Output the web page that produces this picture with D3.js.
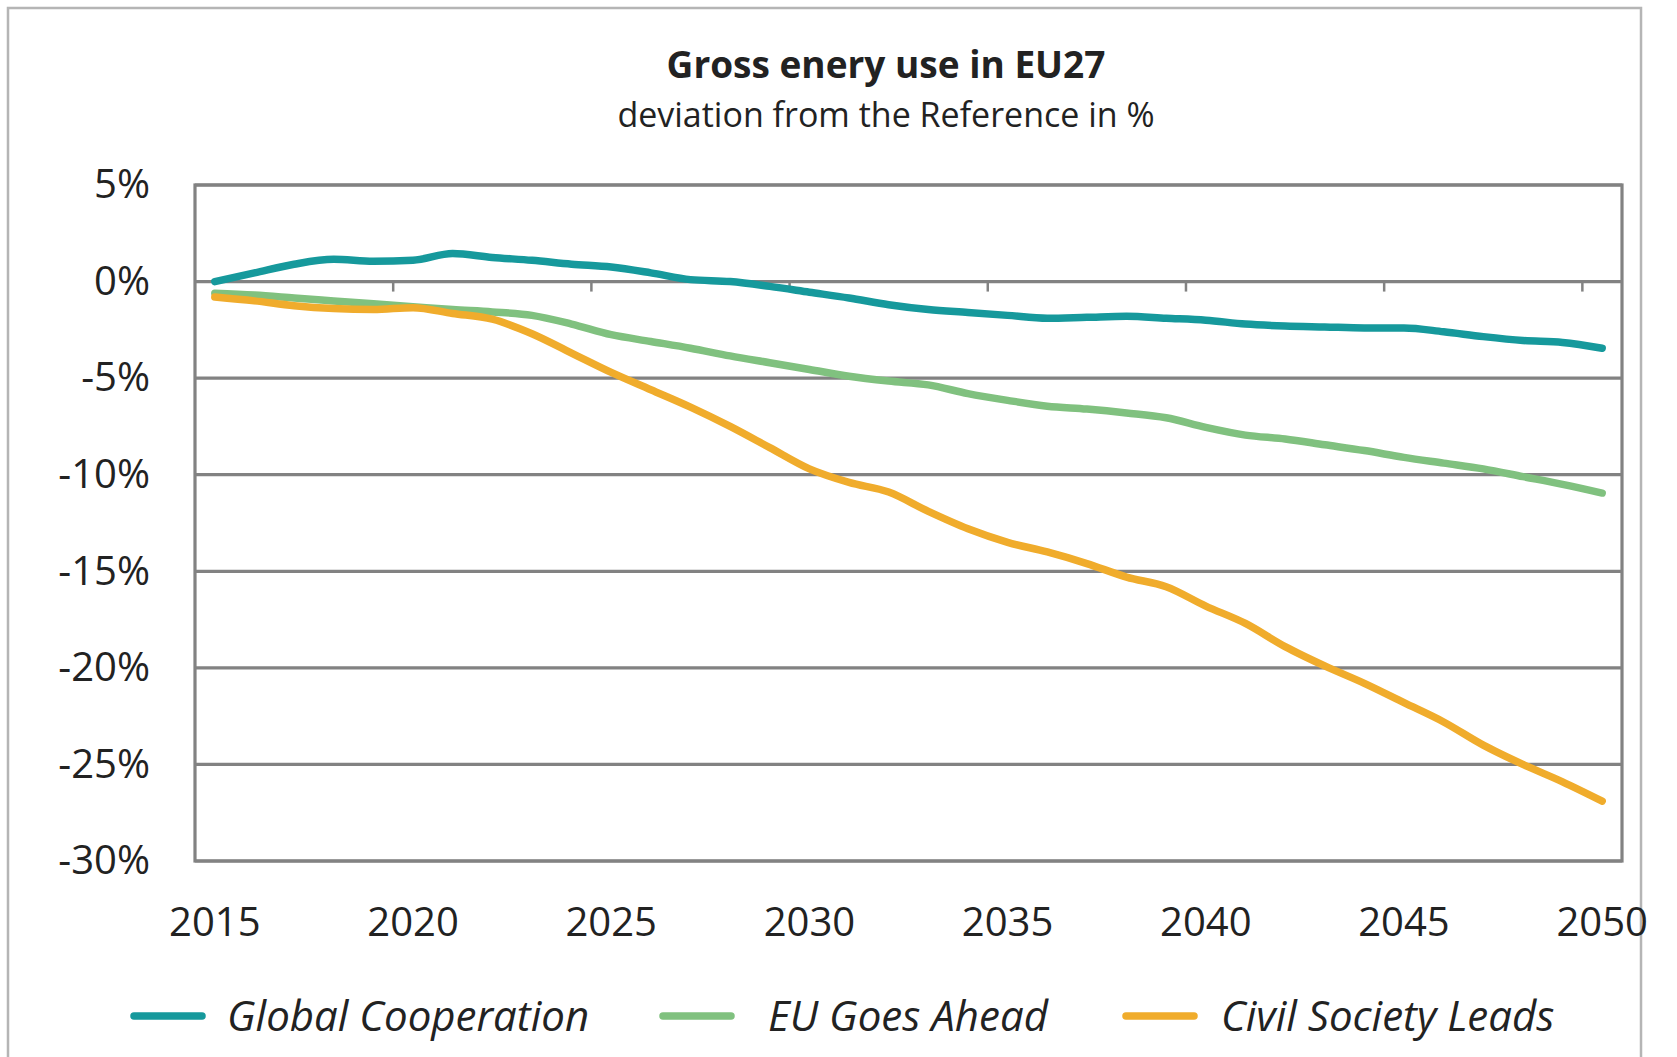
<!DOCTYPE html>
<html>
<head>
<meta charset="utf-8">
<script src="https://cdn.jsdelivr.net/npm/d3@7"></script>
<style>
  html, body { margin: 0; padding: 0; background: #fff; }
  svg { display: block; }
  text { font-family: "Open Sans", "Noto Sans", sans-serif; fill: #222; }
</style>
</head>
<body>
<svg width="1677" height="1057"></svg>
<script>
// data
const years = d3.range(2015, 2051);
const yTicks = [5, 0, -5, -10, -15, -20, -25, -30];
const xLabelYears = [2015, 2020, 2025, 2030, 2035, 2040, 2045, 2050];

const globalCooperation = [0, 0.45, 0.9, 1.15, 1.05, 1.1, 1.45, 1.25, 1.1, 0.9,
  0.75, 0.45, 0.1, 0.0, -0.25, -0.55, -0.85, -1.2, -1.45, -1.6,
  -1.75, -1.9, -1.85, -1.8, -1.9, -2.0, -2.2, -2.3, -2.35, -2.4,
  -2.4, -2.6, -2.85, -3.05, -3.15, -3.45];
const euGoesAhead = [-0.6, -0.7, -0.85, -1.0, -1.15, -1.3, -1.45, -1.57, -1.75, -2.2,
  -2.75, -3.1, -3.45, -3.85, -4.2, -4.55, -4.9, -5.15, -5.35, -5.8,
  -6.15, -6.45, -6.6, -6.8, -7.05, -7.55, -7.95, -8.15, -8.45, -8.75,
  -9.1, -9.4, -9.7, -10.1, -10.5, -10.95];
const civilSocietyLeads = [-0.8, -1.0, -1.25, -1.4, -1.45, -1.35, -1.65, -1.95, -2.7, -3.7,
  -4.7, -5.6, -6.5, -7.5, -8.6, -9.7, -10.4, -10.9, -11.9, -12.8,
  -13.5, -14.0, -14.6, -15.3, -15.8, -16.8, -17.7, -18.9, -19.9, -20.8,
  -21.8, -22.8, -24.0, -25.0, -25.9, -26.9];

const seriesNames = ["Global Cooperation", "EU Goes Ahead", "Civil Society Leads"];
const seriesColors = ["#16999c", "#80c17f", "#f0ac2c"];
const seriesValues = [globalCooperation, euGoesAhead, civilSocietyLeads];

const plot = { left: 195, right: 1622, top: 185, bottom: 861 };
const gridColor = "#828282";

const svg = d3.select("svg");

// outer chart frame
svg.append("rect")
    .attr("x", 8).attr("y", 8)
    .attr("width", 1633).attr("height", 1070)
    .attr("fill", "none")
    .attr("stroke", "#b5b5b5")
    .attr("stroke-width", 2.5);

// titles
svg.append("text")
    .attr("x", 886).attr("y", 78)
    .attr("text-anchor", "middle")
    .style("font-size", "37px")
    .style("font-weight", "bold")
    .text("Gross enery use in EU27");

svg.append("text")
    .attr("x", 886).attr("y", 127)
    .attr("text-anchor", "middle")
    .style("font-size", "34px")
    .text("deviation from the Reference in %");

const x = d3.scaleBand()
    .domain(years)
    .range([plot.left, plot.right])
    .paddingInner(0).paddingOuter(0);
const xc = yr => x(yr) + x.bandwidth() / 2;

const y = d3.scaleLinear()
    .domain([-30, 5])
    .range([plot.bottom, plot.top]);

// horizontal gridlines
svg.append("g")
    .selectAll("line")
    .data(yTicks)
    .join("line")
    .attr("x1", plot.left).attr("x2", plot.right)
    .attr("y1", d => y(d)).attr("y2", d => y(d))
    .attr("stroke", gridColor)
    .attr("stroke-width", 3.2);

// plot frame sides
svg.append("rect")
    .attr("x", plot.left).attr("y", plot.top)
    .attr("width", plot.right - plot.left)
    .attr("height", plot.bottom - plot.top)
    .attr("fill", "none")
    .attr("stroke", gridColor)
    .attr("stroke-width", 3.2);

// y axis labels
const yAxis = d3.axisLeft(y)
    .tickValues(yTicks)
    .tickSize(0)
    .tickPadding(0)
    .tickFormat(d => d + "%");
svg.append("g")
    .attr("transform", `translate(${150},0)`)
    .call(yAxis)
    .call(g => g.select(".domain").remove())
    .call(g => g.selectAll("text")
        .style("font-size", "40px")
        .style("font-family", "'Open Sans', sans-serif")
        .attr("fill", "#222"));

// tick marks on the zero line, between categories
svg.append("g")
    .selectAll("line")
    .data(xLabelYears.slice(1))
    .join("line")
    .attr("x1", d => x(d)).attr("x2", d => x(d))
    .attr("y1", y(0)).attr("y2", y(0) + 10)
    .attr("stroke", gridColor)
    .attr("stroke-width", 2.5);

// x axis labels
const xAxis = d3.axisBottom(x)
    .tickValues(xLabelYears)
    .tickSize(0)
    .tickPadding(0);
svg.append("g")
    .attr("transform", `translate(0,${plot.bottom + 62})`)
    .call(xAxis)
    .call(g => g.select(".domain").remove())
    .call(g => g.selectAll("text")
        .attr("dy", "0.32em")
        .style("font-size", "40px")
        .style("font-family", "'Open Sans', sans-serif")
        .attr("fill", "#222"));

// series lines
const line = d3.line()
    .x((d, i) => xc(years[i]))
    .y(d => y(d))
    .curve(d3.curveMonotoneX);

svg.append("g")
    .selectAll("path")
    .data(seriesValues)
    .join("path")
    .attr("d", d => line(d))
    .attr("fill", "none")
    .attr("stroke", (d, i) => seriesColors[i])
    .attr("stroke-width", 7.5)
    .attr("stroke-linecap", "round")
    .attr("stroke-linejoin", "round");

// legend
const legendItems = [
  { sx: 134, tx: 227 },
  { sx: 663, tx: 768 },
  { sx: 1126, tx: 1221 }
];
const legendY = 1016;
const legend = svg.append("g");
legend.selectAll("line")
    .data(seriesNames)
    .join("line")
    .attr("x1", (d, i) => legendItems[i].sx)
    .attr("x2", (d, i) => legendItems[i].sx + 68)
    .attr("y1", legendY).attr("y2", legendY)
    .attr("stroke", (d, i) => seriesColors[i])
    .attr("stroke-width", 7.5)
    .attr("stroke-linecap", "round");
legend.selectAll("text")
    .data(seriesNames)
    .join("text")
    .attr("x", (d, i) => legendItems[i].tx)
    .attr("y", legendY)
    .attr("dy", "0.35em")
    .style("font-size", "42px")
    .style("font-style", "italic")
    .text(d => d);
</script>
</body>
</html>
